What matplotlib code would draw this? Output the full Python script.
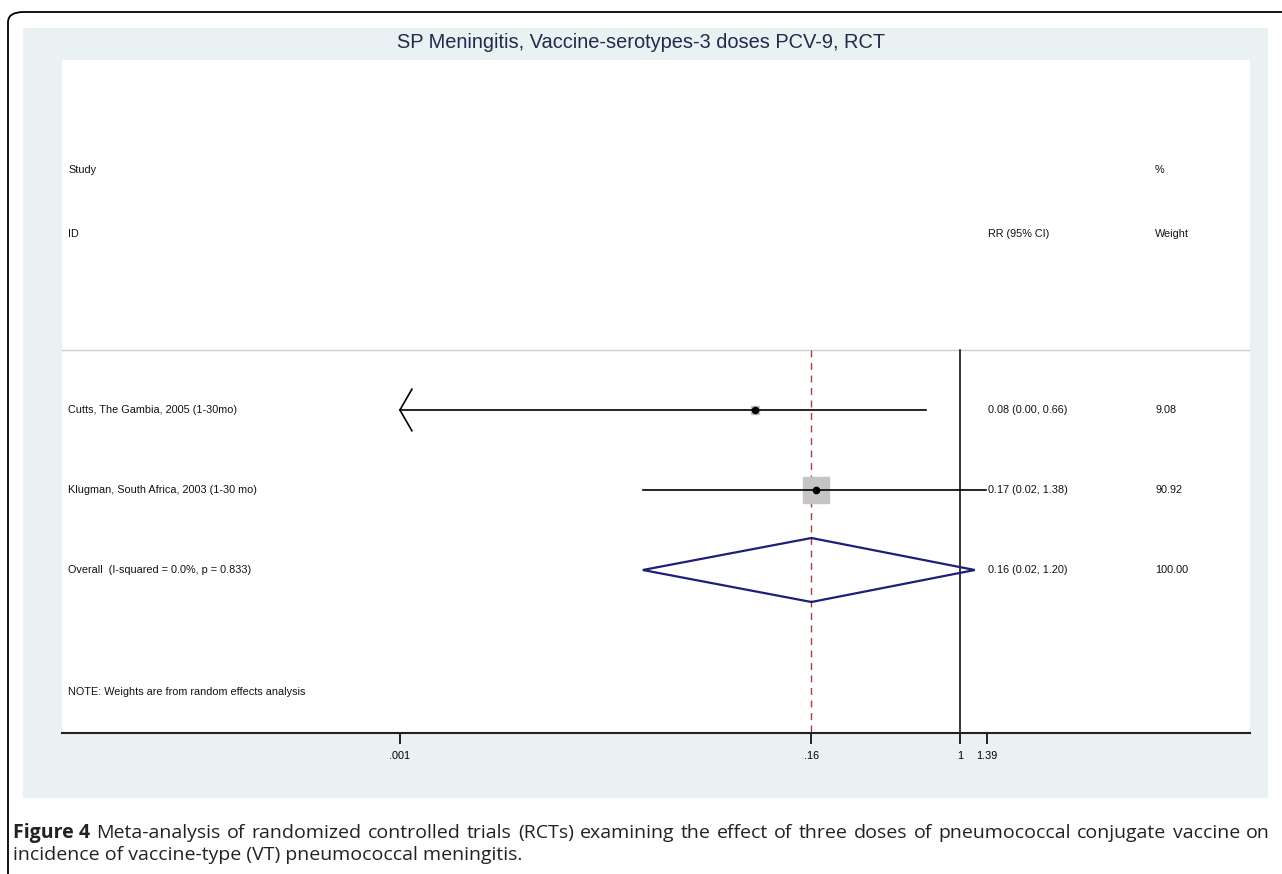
import matplotlib.pyplot as plt
import matplotlib.transforms as mtransforms
import numpy as np
from matplotlib.patches import FancyBboxPatch, Polygon

W, H = 1282, 874

studies = ['Cutts, The Gambia, 2005 (1-30mo)', 'Klugman, South Africa, 2003 (1-30 mo)']
rr = [0.08, 0.17]
lo = [0.00, 0.02]
hi = [0.66, 1.38]
weights = [9.08, 90.92]
overall_label = 'Overall  (I-squared = 0.0%, p = 0.833)'
overall = (0.16, 0.02, 1.20)
xticks = [0.001, 0.16, 1, 1.39]
xticklabels = ['.001', '.16', '1', '1.39']

plt.rcParams['font.family'] = ['Liberation Sans', 'DejaVu Sans']


def fx(px):
    return px / W


def fy(py):
    return 1 - py / H


fig = plt.figure(figsize=(W / 100, H / 100), dpi=100)
fig.patch.set_facecolor('white')

# outer frame, only top-left corner visible
frame = FancyBboxPatch((fx(8), fy(900)), fx(1400), (900 - 12) / H,
                       boxstyle='round,pad=0,rounding_size=0.012',
                       transform=fig.transFigure, facecolor='none',
                       edgecolor='black', linewidth=1.3, zorder=-2)
fig.patches.append(frame)

# light panel behind the plot
panel = plt.Rectangle((fx(23), fy(798)), fx(1268 - 23), (798 - 28) / H,
                      transform=fig.transFigure, facecolor='#e9f1f3',
                      edgecolor='none', zorder=-1)
fig.patches.append(panel)

fig.text(fx(641), fy(43), 'SP Meningitis, Vaccine-serotypes-3 doses PCV-9, RCT',
         ha='center', va='center', fontsize=14.4, color='#1f2b4b')

ax = fig.add_axes([fx(62), fy(733), fx(1250 - 62), (733 - 60) / H])
ax.set_zorder(1)
ax.set_facecolor('white')
ax.set_xscale('log')
ax.set_xlim(10 ** ((62 - 960) / 186.7), 10 ** ((1250 - 960) / 186.7))
ax.set_ylim(5.0375, -3.375)
for s in ['top', 'left', 'right']:
    ax.spines[s].set_visible(False)
ax.spines['bottom'].set_linewidth(1.5)
ax.spines['bottom'].set_color('#222222')
ax.set_yticks([])
ax.set_xticks(xticks)
ax.set_xticklabels(xticklabels)
ax.minorticks_off()
ax.tick_params(axis='x', direction='out', length=8, width=1.2, labelsize=7.8, pad=5)

blend = mtransforms.blended_transform_factory(ax.transAxes, ax.transData)
txt = dict(fontsize=7.8, va='center', color='#111111', transform=blend)


def xa(px):
    return (px - 62) / (1250 - 62)


# headers
ax.text(xa(68), -2, 'Study', **txt)
ax.text(xa(68), -1.2, 'ID', **txt)
ax.text(xa(988), -1.2, 'RR (95% CI)', **txt)
ax.text(xa(1155), -2, '%', **txt)
ax.text(xa(1155), -1.2, 'Weight', **txt)

ax.axhline(0.25, color='#cccccc', linewidth=1)

# null line and pooled estimate line
ax.plot([1, 1], [0.25, 5.0375], color='black', linewidth=1.1)
ax.plot([overall[0], overall[0]], [0.25, 5.0375], color='#a4413c',
        linewidth=1.0, dashes=(5, 4))

for i, (name, r, l, h, w) in enumerate(zip(studies, rr, lo, hi, weights)):
    y = i + 1
    side = 2.73 * np.sqrt(w) / 1.389
    ax.plot(r, y, marker='s', markersize=side, color='#c4c4c4', zorder=3)
    ax.plot([max(l, 0.001), h], [y, y], color='black', linewidth=1.2, zorder=4)
    ax.plot(r, y, marker='o', markersize=4.5, color='black', zorder=5)
    if l < 0.001:
        # lower limit off the scale: open arrowhead
        arm = 0.001 * 10 ** (12 / 186.7)
        ax.plot([arm, 0.001, arm], [y - 0.26, y, y + 0.26], color='black',
                linewidth=1.2, zorder=4)
    ax.text(xa(68), y, name, **txt)
    ax.text(xa(988), y, '%.2f (%.2f, %.2f)' % (r, l, h), **txt)
    ax.text(xa(1155), y, '%.2f' % w, **txt)

y = 3
dia = Polygon([[overall[1], y], [overall[0], y - 0.4], [overall[2], y],
               [overall[0], y + 0.4]], closed=True, facecolor='none',
              edgecolor='#1c1f78', linewidth=1.6, zorder=6)
ax.add_patch(dia)
ax.text(xa(68), y, overall_label, **txt)
ax.text(xa(988), y, '%.2f (%.2f, %.2f)' % overall, **txt)
ax.text(xa(1155), y, '100.00', **txt)

ax.text(xa(68), 4.525, 'NOTE: Weights are from random effects analysis', **txt)

# caption, first line justified
cap_font = ['Open Sans', 'DejaVu Sans']
line1 = ('Meta-analysis of randomized controlled trials (RCTs) examining the effect '
         'of three doses of pneumococcal conjugate vaccine on')
words = [('Figure 4', 'bold')] + [(w_, 'normal') for w_ in line1.split()]
fig.canvas.draw()
renderer = fig.canvas.get_renderer()
objs = []
total = 0
for wd, wt in words:
    t = fig.text(0, fy(833), wd, fontsize=14, fontweight=wt, family=cap_font,
                 va='center', ha='left', color='#222222')
    wdt = t.get_window_extent(renderer).width
    objs.append((t, wdt))
    total += wdt
x0, x1 = 13, 1270
gap = (x1 - x0 - total) / (len(objs) - 1)
cur = x0
for t, wdt in objs:
    t.set_x(fx(cur))
    cur += wdt + gap
fig.text(fx(13), fy(855), 'incidence of vaccine-type (VT) pneumococcal meningitis.',
         fontsize=14, family=cap_font, va='center', ha='left', color='#222222')

fig.savefig('out.png', dpi=100)
